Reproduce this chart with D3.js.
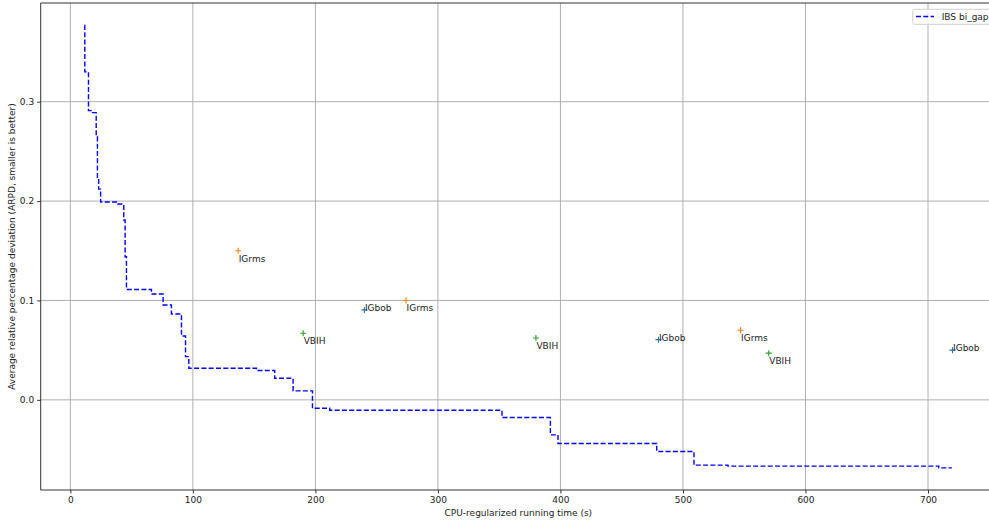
<!DOCTYPE html>
<html>
<head>
<meta charset="utf-8">
<script src="https://cdn.jsdelivr.net/npm/d3@7"></script>
<style>
  html, body { margin: 0; padding: 0; background: #fff; overflow: hidden; }
  text { font-family: "DejaVu Sans", sans-serif; fill: #222; }
</style>
</head>
<body>
<div id="chart"></div>
<script>
// IBS bi_gap best-so-far curve (steps-post): time (s) and ARPD
var stepTimes = [11.6, 11.8, 14.8, 18.0, 21.1, 22.1, 23.1, 24.7, 38.8, 43.6, 44.7, 45.8,
    66.2, 75.7, 82.5, 90.7, 94.0, 96.7, 151.9, 166.8, 181.8, 197.6, 211.7, 352.3,
    391.8, 398.0, 478.6, 509.0, 536.7, 708.8, 719.5];
var stepArpd = [0.377, 0.330, 0.291, 0.289, 0.265, 0.224, 0.212, 0.199, 0.197, 0.181, 0.144, 0.111,
    0.1065, 0.0955, 0.0864, 0.0643, 0.0435, 0.0318, 0.0295, 0.0218, 0.009, -0.0084, -0.0104, -0.0178,
    -0.0352, -0.0439, -0.052, -0.0657, -0.0667, -0.0684, -0.0684];

// single runs of the other methods
var pointNames = ["IGrms", "VBIH", "IGbob", "IGrms", "VBIH", "IGbob", "IGrms", "VBIH", "IGbob"];
var pointTimes = [137, 190, 240, 274, 380, 480, 547, 570, 720];
var pointArpd = [0.150, 0.067, 0.0905, 0.100, 0.0623, 0.0606, 0.070, 0.047, 0.050];

var xTicks = [0, 100, 200, 300, 400, 500, 600, 700];
var yTicks = [0.0, 0.1, 0.2, 0.3];

var methodColor = {IGbob: "#1f77b4", IGrms: "#ff7f0e", VBIH: "#2ca02c"};

var W = 989, H = 524;
var margin = {top: 3, left: 40.7, bottom: 34, rightEdge: 996};
var height = H - margin.top - margin.bottom;

var x = d3.scaleLinear()
    .domain([-24.2, 755.5])
    .range([margin.left, margin.rightEdge]);

var y = d3.scaleLinear()
    .domain([-0.0907, 0.3993])
    .range([margin.top + height, margin.top]);

var svg = d3.select("#chart").append("svg")
    .attr("width", W)
    .attr("height", H);

// grid
svg.append("g").selectAll("line")
    .data(xTicks)
    .enter().append("line")
        .attr("x1", function(d) { return x(d); })
        .attr("x2", function(d) { return x(d); })
        .attr("y1", y.range()[0])
        .attr("y2", y.range()[1])
        .style("stroke", "#b0b0b0")
        .style("stroke-width", 1);

svg.append("g").selectAll("line")
    .data(yTicks)
    .enter().append("line")
        .attr("x1", x.range()[0])
        .attr("x2", x.range()[1])
        .attr("y1", function(d) { return y(d); })
        .attr("y2", function(d) { return y(d); })
        .style("stroke", "#b0b0b0")
        .style("stroke-width", 1);

// step line
var stepData = stepTimes.map(function(t, i) { return [t, stepArpd[i]]; });
var line = d3.line()
    .x(function(d) { return x(d[0]); })
    .y(function(d) { return y(d[1]); })
    .curve(d3.curveStepAfter);

svg.append("path")
    .datum(stepData)
    .attr("d", line)
    .style("fill", "none")
    .style("stroke", "#0000ff")
    .style("stroke-width", 1.4)
    .style("stroke-dasharray", "5,2.3");

// points, '+' markers
var pts = svg.selectAll(".pt")
    .data(pointTimes.map(function(t, i) { return {t: t, v: pointArpd[i], name: pointNames[i]}; }))
    .enter().append("g")
        .attr("class", "pt")
        .attr("transform", function(d) { return "translate(" + x(d.t) + "," + y(d.v) + ")"; });

pts.append("path")
    .attr("d", "M-3,0H3M0,-3V3")
    .style("stroke", function(d) { return methodColor[d.name]; })
    .style("stroke-width", 1.1);

pts.append("text")
    .attr("x", 0.5)
    .attr("y", function(d) { return d.name === "IGbob" ? 1 : 11; })
    .style("font-size", "9px")
    .text(function(d) { return d.name; });

// spines
svg.append("path")
    .attr("d", "M" + x.range()[0] + "," + y.range()[1] + "V" + y.range()[0] + "H" + x.range()[1])
    .style("fill", "none")
    .style("stroke", "#333")
    .style("stroke-width", 1);
svg.append("line")
    .attr("x1", x.range()[0]).attr("x2", x.range()[1])
    .attr("y1", y.range()[1]).attr("y2", y.range()[1])
    .style("stroke", "#333")
    .style("stroke-width", 1);

// axes
var xAxis = svg.append("g")
    .attr("transform", "translate(0," + y.range()[0] + ")")
    .call(d3.axisBottom(x).tickValues(xTicks).tickSize(3.5).tickPadding(3).tickFormat(d3.format("d")));
var yAxis = svg.append("g")
    .attr("transform", "translate(" + x.range()[0] + ",0)")
    .call(d3.axisLeft(y).tickValues(yTicks).tickSize(3.5).tickPadding(3).tickFormat(d3.format(".1f")));

[xAxis, yAxis].forEach(function(a) {
    a.select(".domain").remove();
    a.selectAll(".tick line").style("stroke", "#333");
    a.selectAll(".tick text").style("font-size", "9px").style("font-family", "DejaVu Sans").style("fill", "#222");
});

// axis labels
svg.append("text")
    .attr("x", (margin.left + margin.rightEdge) / 2)
    .attr("y", 516)
    .style("text-anchor", "middle")
    .style("font-size", "9px")
    .text("CPU-regularized running time (s)");

svg.append("text")
    .attr("transform", "translate(15," + (margin.top + height / 2) + ") rotate(-90)")
    .style("text-anchor", "middle")
    .style("font-size", "9px")
    .text("Average relative percentage deviation (ARPD, smaller is better)");

// legend
var legend = svg.append("g").attr("class", "legend");
legend.append("rect")
    .attr("x", 912.7).attr("y", 9.3)
    .attr("width", 80).attr("height", 15)
    .attr("rx", 2)
    .style("fill", "#fff")
    .style("fill-opacity", 0.8)
    .style("stroke", "#d0d0d0")
    .style("stroke-width", 1);
legend.append("line")
    .attr("x1", 916).attr("x2", 934)
    .attr("y1", 16.5).attr("y2", 16.5)
    .style("stroke", "#0000ff")
    .style("stroke-width", 1.4)
    .style("stroke-dasharray", "5,2.3");
legend.append("text")
    .attr("x", 941.7).attr("y", 19.8)
    .style("font-size", "9px")
    .text("IBS bi_gap");
</script>
</body>
</html>
